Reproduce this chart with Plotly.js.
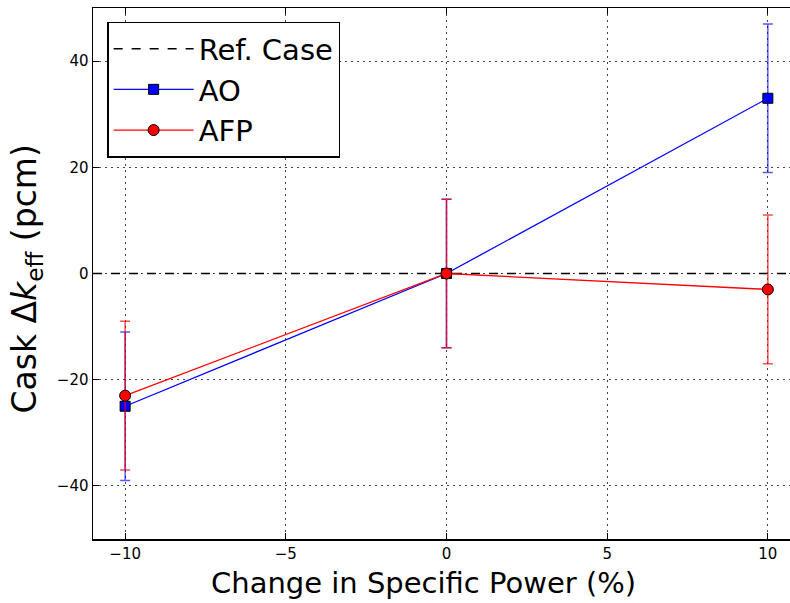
<!DOCTYPE html>
<html>
<head>
<meta charset="utf-8">
<script src="https://cdn.plot.ly/plotly-3.0.1.min.js"></script>
<style>
html, body { margin: 0; padding: 0; overflow: hidden; background: #fff; }
#chart { width: 800px; height: 603px; }
</style>
</head>
<body>
<div id="chart"></div>
<script>
// Data
const powerChange = [-10, 0, 10];
const aoValues = [-25, 0, 33];
const aoErrors = [14, 14, 14];
const afpValues = [-23, 0, -3];
const afpErrors = [14, 14, 14];
const refX = [-11, 11];
const refY = [0, 0];
const xTitle = "Change in Specific Power (%)";
const yTitle = "Cask Δ<i>k</i><sub>eff</sub> (pcm)";

const font = "DejaVu Sans, sans-serif";

const traces = [
  {
    x: refX, y: refY, name: "Ref. Case", mode: "lines", legendgroup: "a",
    line: { color: "black", width: 1.5, dash: "dash" },
    hoverinfo: "skip"
  },
  {
    x: powerChange, y: aoValues, name: "AO", mode: "lines+markers", legendgroup: "b",
    line: { color: "#0000ff", width: 1.3 },
    marker: { symbol: "square", size: 10, color: "#0000ff", line: { color: "black", width: 1 } },
    error_y: { type: "data", array: aoErrors, visible: true, color: "rgba(0,0,255,0.65)", thickness: 1.5, width: 5 }
  },
  {
    x: powerChange, y: afpValues, name: "AFP", mode: "lines+markers", legendgroup: "c",
    line: { color: "#ff0000", width: 1.3 },
    marker: { symbol: "circle", size: 11, color: "#ff0000", line: { color: "black", width: 1 } },
    error_y: { type: "data", array: afpErrors, visible: true, color: "rgba(255,0,0,0.7)", thickness: 1.5, width: 5 }
  }
];

const axisCommon = {
  showline: true, linecolor: "black", linewidth: 1.5, mirror: "allticks",
  ticks: "inside", ticklen: 6, tickcolor: "black", tickwidth: 1,
  showgrid: true, gridcolor: "#444", griddash: "1.5px,4.5px", gridwidth: 1,
  zeroline: false,
  tickfont: { family: font, size: 15, color: "black" }
};

const layout = {
  width: 800, height: 603,
  margin: { l: 93, r: 0, t: 8, b: 64 },
  paper_bgcolor: "white", plot_bgcolor: "white",
  showlegend: true,
  legend: {
    x: 0.02, y: 0.974, xanchor: "left", yanchor: "top",
    bgcolor: "white", bordercolor: "black", borderwidth: 1.5,
    font: { family: font, size: 29, color: "black" },
    itemwidth: 80, traceorder: "grouped", tracegroupgap: 0
  },
  xaxis: Object.assign({}, axisCommon, { range: [-11, 11], tickvals: [-10, -5, 0, 5, 10] }),
  yaxis: Object.assign({}, axisCommon, { range: [-50, 50], tickvals: [-40, -20, 0, 20, 40] }),
  annotations: [
    {
      text: xTitle, xref: "paper", yref: "paper", x: 0.468, y: -0.083,
      xanchor: "center", yanchor: "middle", showarrow: false,
      font: { family: font, size: 29, color: "black" }
    },
    {
      text: yTitle, xref: "paper", yref: "paper", x: -0.127, y: 0.49,
      xanchor: "left", yanchor: "middle", showarrow: false, textangle: -90,
      font: { family: font, size: 33, color: "black" }
    }
  ]
};

Plotly.newPlot("chart", traces, layout, { displayModeBar: false, staticPlot: true });
</script>
</body>
</html>
